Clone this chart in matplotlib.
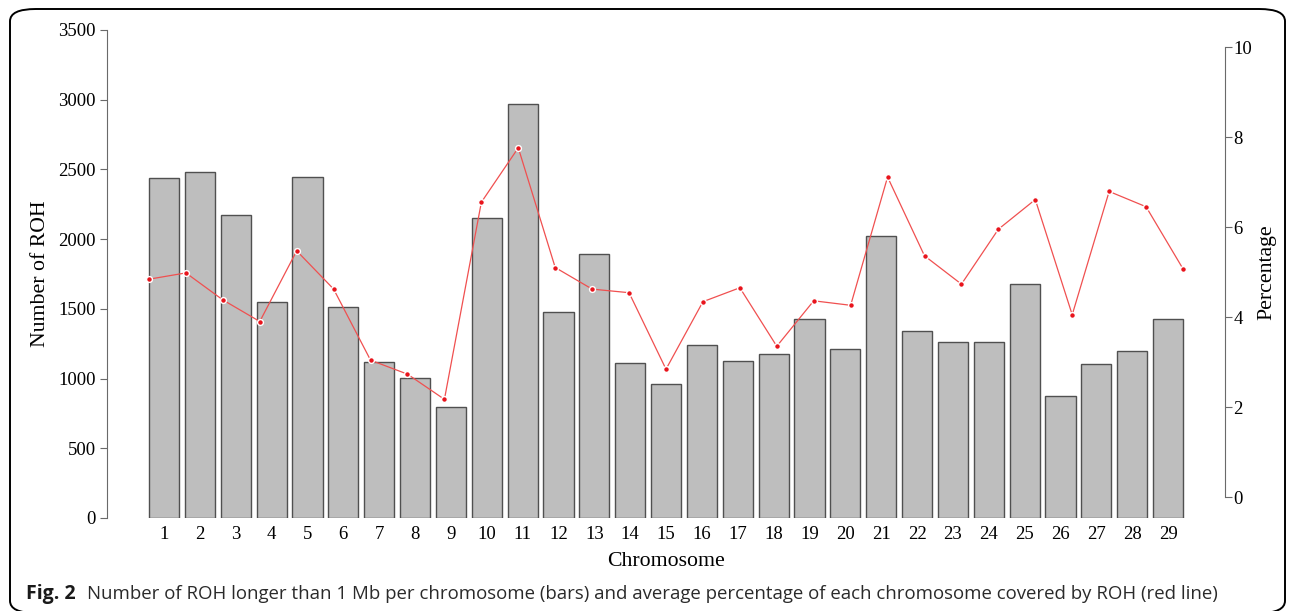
import matplotlib
matplotlib.use('Agg')
import matplotlib.pyplot as plt
from matplotlib.patches import FancyBboxPatch

# data
chromosomes = list(range(1, 30))
roh_counts = [2436, 2481, 2171, 1547, 2446, 1513, 1117, 1006, 796, 2154,
              2969, 1475, 1896, 1109, 961, 1238, 1124, 1176, 1425, 1210,
              2022, 1341, 1262, 1262, 1678, 877, 1107, 1200, 1430]
percentage = [4.84, 4.98, 4.38, 3.90, 5.47, 4.62, 3.04, 2.73, 2.17, 6.55,
              7.76, 5.10, 4.62, 4.54, 2.84, 4.34, 4.65, 3.35, 4.36, 4.26,
              7.11, 5.36, 4.73, 5.95, 6.61, 4.05, 6.79, 6.45, 5.07]
left_ticks = [0, 500, 1000, 1500, 2000, 2500, 3000, 3500]
right_ticks = [0, 2, 4, 6, 8, 10]

W, H = 1290, 611
serif = ['Liberation Serif', 'DejaVu Serif']
spine_col = '#6a6a6a'


def px_rect(x0, y_top, x1, y_bot):
    return [x0 / W, (H - y_bot) / H, (x1 - x0) / W, (y_bot - y_top) / H]


fig = plt.figure(figsize=(W / 100, H / 100), dpi=100)

# rounded frame around the whole figure
frame = FancyBboxPatch((10 / W, -2 / H), 1275 / W, 604 / H,
                       boxstyle='round,pad=0,rounding_size=0.02',
                       transform=fig.transFigure, fill=False,
                       edgecolor='black', linewidth=1.4)
fig.patches.append(frame)

# bars
ax = fig.add_axes(px_rect(107, 30, 1225, 518))
ax.bar(chromosomes, roh_counts, width=0.84, color='#bebebe',
       edgecolor='#505050', linewidth=1.0)
ax.set_xlim(-0.59, 30.588)
ax.set_ylim(0, 3500)
for s in ['top', 'right', 'bottom']:
    ax.spines[s].set_visible(False)
ax.spines['left'].set_color(spine_col)
ax.set_yticks(left_ticks)
ax.set_xticks(chromosomes)
ax.tick_params(axis='y', length=5, color=spine_col, pad=3, labelsize=13.5)
ax.tick_params(axis='x', length=0, pad=6, labelsize=13.5)
for lab in ax.get_xticklabels() + ax.get_yticklabels():
    lab.set_family(serif)
ax.set_xlabel('Chromosome', family=serif, fontsize=15.7, labelpad=6)
ax.set_ylabel('Number of ROH', family=serif, fontsize=15.7, labelpad=6)

# red line on its own axis
ax2 = fig.add_axes(px_rect(107, 47, 1225, 497))
ax2.patch.set_alpha(0)
ax2.plot(chromosomes, percentage, color='#f05050', linewidth=0.9,
         marker='o', markersize=4.2, markerfacecolor='#e8141c',
         markeredgecolor='white', markeredgewidth=1.0)
ax2.set_xlim(-0.137, 30.137)
ax2.set_ylim(0, 10)
for s in ['top', 'left', 'bottom']:
    ax2.spines[s].set_visible(False)
ax2.spines['right'].set_color(spine_col)
ax2.set_xticks([])
ax2.yaxis.tick_right()
ax2.yaxis.set_label_position('right')
ax2.set_yticks(right_ticks)
ax2.tick_params(axis='y', length=5, color=spine_col, pad=1, labelsize=13.5)
for lab in ax2.get_yticklabels():
    lab.set_family(serif)
ax2.set_ylabel('Percentage', family=serif, fontsize=15.7, labelpad=4)

# caption
fig.text(26 / W, (H - 594) / H, 'Fig. 2', family='Open Sans', fontweight='bold',
         fontsize=14, va='center', ha='left', color='#1a1a1a')
fig.text(87 / W, (H - 594) / H,
         'Number of ROH longer than 1 Mb per chromosome (bars) and average '
         'percentage of each chromosome covered by ROH (red line)',
         family='Open Sans', fontsize=13.4, va='center', ha='left', color='#2a2a2a')

fig.savefig('out.png', dpi=100)
